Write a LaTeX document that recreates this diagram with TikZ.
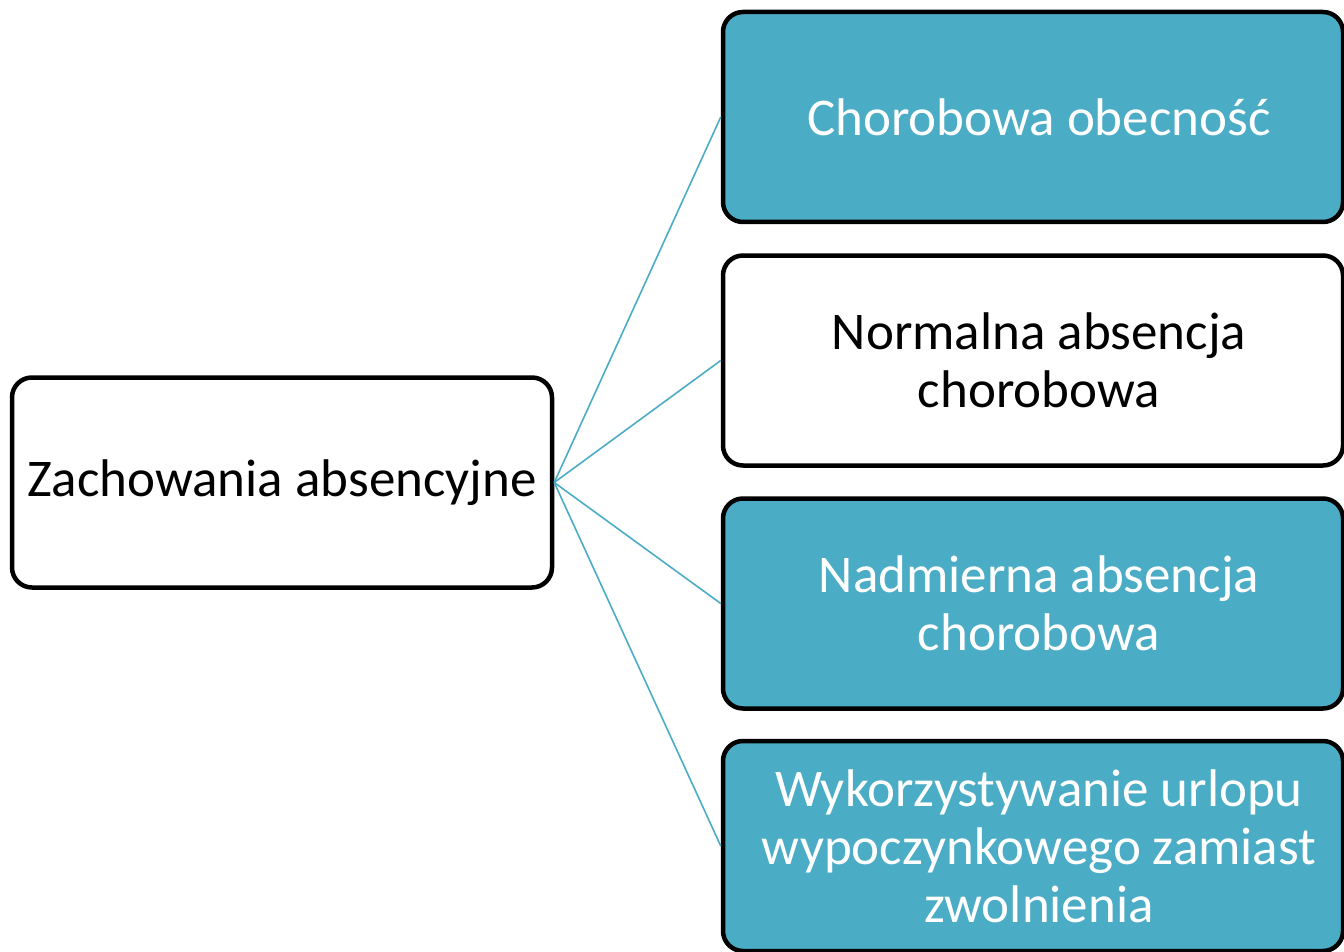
\documentclass[tikz,border=0pt]{standalone}
\usepackage{fontspec}
\setmainfont{Carlito}
\definecolor{accent}{HTML}{4BACC6}
\tikzset{
  box/.style={draw=black, line width=4.5pt, rounded corners=20pt, minimum height=210pt, align=center, inner sep=0pt, font=\fontsize{53}{58}\selectfont},
  leftbox/.style={box, fill=white, text=black, minimum width=540pt},
  bluebox/.style={box, fill=accent, text=white, minimum width=620pt},
  whitebox/.style={box, fill=white, text=black, minimum width=620pt},
  link/.style={draw=accent, line width=1.6pt}
}
\begin{document}
\begin{tikzpicture}[x=1pt,y=-1pt]
\useasboundingbox (0,0) rectangle (1344,952);
\node[leftbox] (root) at (282,482.5) {Zachowania absencyjne};
\node[bluebox] (b1) at (1033,117) {\hspace*{12pt}Chorobowa obecność};
\node[whitebox] (b2) at (1033,360.5) {\hspace*{12pt}Normalna absencja\\\hspace*{12pt}chorobowa};
\node[bluebox] (b3) at (1033,603.5) {\hspace*{12pt}Nadmierna absencja\\\hspace*{12pt}chorobowa};
\node[bluebox] (b4) at (1033,846) {\hspace*{12pt}Wykorzystywanie urlopu\\\hspace*{12pt}wypoczynkowego zamiast\\\hspace*{12pt}zwolnienia};
\draw[link] (root.east) -- (b1.west);
\draw[link] (root.east) -- (b2.west);
\draw[link] (root.east) -- (b3.west);
\draw[link] (root.east) -- (b4.west);
\end{tikzpicture}
\end{document}
